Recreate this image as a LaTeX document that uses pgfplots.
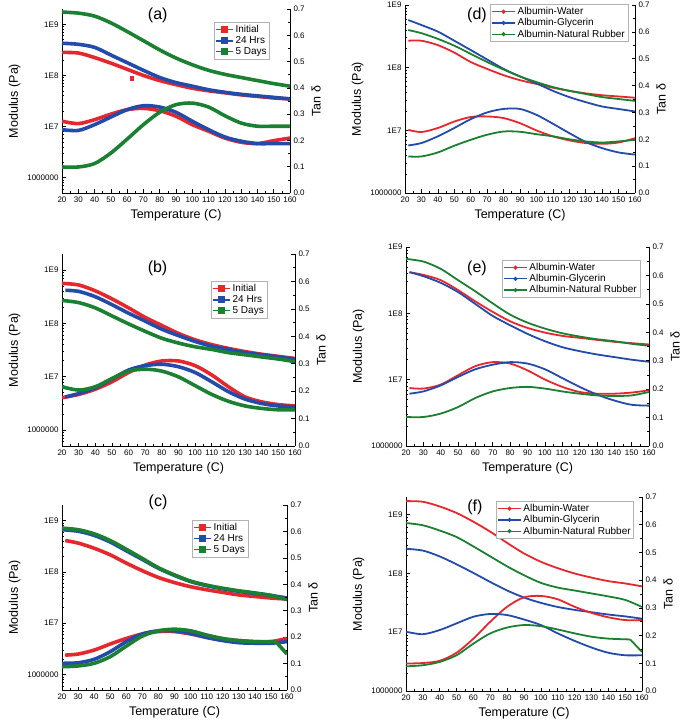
\documentclass[border=0pt]{standalone}
\usepackage{pgfplots}
\pgfplotsset{compat=1.18}
\usepackage{fontspec}
\setmainfont{Liberation Sans}
\definecolor{cr}{RGB}{228,40,45}
\definecolor{cb}{RGB}{35,75,170}
\definecolor{cg}{RGB}{28,128,50}
\tikzset{thkline/.style={smooth, line width=3.6pt}, thnline/.style={smooth, line width=1.8pt}}
\pgfplotsset{every axis/.append style={scale only axis, xmin=20, xmax=160,
    xtick={20,30,40,50,60,70,80,90,100,110,120,130,140,150,160},
    xticklabels={20,30,40,50,60,70,80,90,100,110,120,130,140,150,160},
    minor x tick num=1, tick align=inside, major tick length=3.5pt, minor tick length=2pt,
    tick style={black, line width=0.6pt}, axis line style={line width=0.8pt},
    tick label style={font=\fontsize{8}{9}\selectfont},
    label style={font=\fontsize{12.5}{14}\selectfont}}}
\begin{document}
\begin{tikzpicture}
\useasboundingbox (0pt,0pt) rectangle (685pt,724pt);
% ---------------- (a)
\begin{axis}[at={(62pt,531pt)}, anchor=south west, width=228pt, height=184pt, ymin=5e5, ymax=2e9,
  ymode=log, ytick={1e6,1e7,1e8,1e9}, yticklabels={1000000,1E7,1E8,1E9},
  minor ytick={6e5,7e5,8e5,9e5,2e6,3e6,4e6,5e6,6e6,7e6,8e6,9e6,2e7,3e7,4e7,5e7,6e7,7e7,8e7,9e7,2e8,3e8,4e8,5e8,6e8,7e8,8e8,9e8},
  axis x line*=bottom, axis y line*=left, xlabel={Temperature (C)}, ylabel={Modulus (Pa)}, clip=false,
  legend cell align=left, legend style={draw=gray!60, line width=0.5pt, font=\fontsize{10}{11}\selectfont, inner sep=1pt, row sep=-1.5pt, at={(0.912,0.929)}, anchor=north east},
  legend image code/.code={\draw[#1,line width=1.5pt] (0cm,0cm) -- (0.6cm,0cm); \fill[#1] (0.3cm,0cm) ++(-1.7pt,-1.7pt) rectangle ++(3.4pt,3.4pt);}]
\addplot[thkline, cr] coordinates {(20,2.82e8) (30,2.75e8) (40,2.24e8) (50,1.74e8) (60,1.32e8) (70,1.00e8) (80,7.94e7) (90,6.61e7) (100,5.62e7) (110,5.01e7) (120,4.57e7) (130,4.17e7) (140,3.89e7) (150,3.63e7) (160,3.47e7)};
\addlegendentry{Initial}
\addplot[thkline, cb] coordinates {(20,4.27e8) (30,4.07e8) (40,3.55e8) (50,2.51e8) (60,1.78e8) (70,1.26e8) (80,9.12e7) (90,7.24e7) (100,6.17e7) (110,5.25e7) (120,4.68e7) (130,4.27e7) (140,3.98e7) (150,3.72e7) (160,3.47e7)};
\addlegendentry{24 Hrs}
\addplot[thkline, cg] coordinates {(20,1.74e9) (30,1.66e9) (40,1.45e9) (50,1.07e9) (60,7.24e8) (70,4.79e8) (80,3.16e8) (90,2.19e8) (100,1.62e8) (110,1.26e8) (120,1.05e8) (130,9.12e7) (140,7.94e7) (150,6.92e7) (160,6.17e7)};
\addlegendentry{5 Days}
\addplot[only marks, mark=square*, mark size=1.6pt, cr, forget plot] coordinates {(63,8.8e7)};
\node[font=\fontsize{16}{17}\selectfont] at (rel axis cs:0.42,0.965) {(a)};
\end{axis}
\begin{axis}[at={(62pt,531pt)}, anchor=south west, width=228pt, height=184pt,
  axis y line*=right, axis x line=none, ymin=0, ymax=0.7, ytick={0,0.1,0.2,0.3,0.4,0.5,0.6,0.7},
  yticklabels={0.0,0.1,0.2,0.3,0.4,0.5,0.6,0.7}, minor y tick num=1, ylabel={Tan δ}]
\addplot[thkline, cr] coordinates {(20,0.273) (30,0.264) (40,0.279) (50,0.300) (60,0.317) (70,0.322) (80,0.313) (90,0.292) (100,0.260) (110,0.235) (120,0.209) (130,0.193) (140,0.188) (150,0.199) (160,0.209)};
\addplot[thkline, cb] coordinates {(20,0.241) (30,0.238) (40,0.260) (50,0.289) (60,0.317) (70,0.332) (80,0.327) (90,0.307) (100,0.273) (110,0.241) (120,0.213) (130,0.197) (140,0.188) (150,0.188) (160,0.188)};
\addplot[thkline, cg] coordinates {(20,0.099) (30,0.099) (40,0.112) (50,0.152) (60,0.205) (70,0.260) (80,0.307) (90,0.336) (100,0.342) (110,0.327) (120,0.294) (130,0.266) (140,0.254) (150,0.254) (160,0.254)};
\end{axis}
% ---------------- (b)
\begin{axis}[at={(62pt,278pt)}, anchor=south west, width=233pt, height=192pt, ymin=5e5, ymax=2e9,
  ymode=log, ytick={1e6,1e7,1e8,1e9}, yticklabels={1000000,1E7,1E8,1E9},
  minor ytick={6e5,7e5,8e5,9e5,2e6,3e6,4e6,5e6,6e6,7e6,8e6,9e6,2e7,3e7,4e7,5e7,6e7,7e7,8e7,9e7,2e8,3e8,4e8,5e8,6e8,7e8,8e8,9e8},
  axis x line*=bottom, axis y line*=left, xlabel={Temperature (C)}, ylabel={Modulus (Pa)}, clip=false,
  legend cell align=left, legend style={draw=gray!60, line width=0.5pt, font=\fontsize{10}{11}\selectfont, inner sep=1pt, row sep=-1.5pt, at={(0.88,0.859)}, anchor=north east},
  legend image code/.code={\draw[#1,line width=1.5pt] (0cm,0cm) -- (0.6cm,0cm); \fill[#1] (0.3cm,0cm) ++(-1.7pt,-1.7pt) rectangle ++(3.4pt,3.4pt);}]
\addplot[thkline, cr] coordinates {(20,5.62e8) (30,5.25e8) (40,4.07e8) (50,2.88e8) (60,1.95e8) (70,1.29e8) (80,9.12e7) (90,6.46e7) (100,4.90e7) (110,3.98e7) (120,3.39e7) (130,2.95e7) (140,2.63e7) (150,2.40e7) (160,2.19e7)};
\addlegendentry{Initial}
\addplot[thkline, cb] coordinates {(22,4.17e8) (30,3.98e8) (40,3.16e8) (50,2.24e8) (60,1.55e8) (70,1.10e8) (80,7.76e7) (90,5.89e7) (100,4.57e7) (110,3.72e7) (120,3.24e7) (130,2.82e7) (140,2.57e7) (150,2.34e7) (160,2.14e7)};
\addlegendentry{24 Hrs}
\addplot[thkline, cg] coordinates {(20,2.69e8) (30,2.45e8) (40,1.95e8) (50,1.38e8) (60,9.77e7) (70,7.08e7) (80,5.25e7) (90,4.27e7) (100,3.63e7) (110,3.24e7) (120,2.82e7) (130,2.57e7) (140,2.34e7) (150,2.14e7) (160,1.91e7)};
\addlegendentry{5 Days}
\node[font=\fontsize{16}{17}\selectfont] at (rel axis cs:0.41,0.927) {(b)};
\end{axis}
\begin{axis}[at={(62pt,278pt)}, anchor=south west, width=233pt, height=192pt,
  axis y line*=right, axis x line=none, ymin=0, ymax=0.7, ytick={0,0.1,0.2,0.3,0.4,0.5,0.6,0.7},
  yticklabels={0.0,0.1,0.2,0.3,0.4,0.5,0.6,0.7}, minor y tick num=1, ylabel={Tan δ}]
\addplot[thkline, cr] coordinates {(20,0.176) (30,0.188) (40,0.207) (50,0.234) (60,0.268) (70,0.295) (80,0.310) (90,0.310) (100,0.293) (110,0.259) (120,0.216) (130,0.179) (140,0.161) (150,0.151) (160,0.146)};
\addplot[thkline, cb] coordinates {(22,0.179) (30,0.191) (40,0.212) (50,0.244) (60,0.277) (70,0.293) (80,0.298) (90,0.289) (100,0.268) (110,0.234) (120,0.198) (130,0.171) (140,0.155) (150,0.146) (160,0.143)};
\addplot[thkline, cg] coordinates {(20,0.216) (30,0.204) (40,0.216) (50,0.246) (60,0.273) (70,0.280) (80,0.273) (90,0.252) (100,0.220) (110,0.188) (120,0.163) (130,0.146) (140,0.137) (150,0.132) (160,0.132)};
\end{axis}
% ---------------- (c)
\begin{axis}[at={(62pt,34pt)}, anchor=south west, width=225pt, height=185pt, ymin=5e5, ymax=2e9,
  ymode=log, ytick={1e6,1e7,1e8,1e9}, yticklabels={1000000,1E7,1E8,1E9},
  minor ytick={6e5,7e5,8e5,9e5,2e6,3e6,4e6,5e6,6e6,7e6,8e6,9e6,2e7,3e7,4e7,5e7,6e7,7e7,8e7,9e7,2e8,3e8,4e8,5e8,6e8,7e8,8e8,9e8},
  axis x line*=bottom, axis y line*=left, xlabel={Temperature (C)}, ylabel={Modulus (Pa)}, clip=false,
  legend cell align=left, legend style={draw=gray!60, line width=0.5pt, font=\fontsize{10}{11}\selectfont, inner sep=1pt, row sep=-1.5pt, at={(0.827,0.919)}, anchor=north east},
  legend image code/.code={\draw[#1,line width=1.5pt] (0cm,0cm) -- (0.6cm,0cm); \fill[#1] (0.3cm,0cm) ++(-1.7pt,-1.7pt) rectangle ++(3.4pt,3.4pt);}]
\addplot[thkline, cr] coordinates {(22,4.07e8) (30,3.63e8) (40,2.88e8) (50,2.14e8) (60,1.48e8) (70,1.05e8) (80,7.76e7) (90,6.17e7) (100,5.13e7) (110,4.47e7) (120,3.98e7) (130,3.55e7) (140,3.31e7) (150,3.09e7) (160,2.95e7)};
\addlegendentry{Initial}
\addplot[thkline, cb] coordinates {(20,6.61e8) (30,6.17e8) (40,5.13e8) (50,3.80e8) (60,2.57e8) (70,1.74e8) (80,1.17e8) (90,8.51e7) (100,6.46e7) (110,5.37e7) (120,4.68e7) (130,4.17e7) (140,3.80e7) (150,3.47e7) (160,3.09e7)};
\addlegendentry{24 Hrs}
\addplot[thkline, cg] coordinates {(20,7.08e8) (30,6.61e8) (40,5.50e8) (50,4.07e8) (60,2.75e8) (70,1.82e8) (80,1.20e8) (90,8.71e7) (100,6.61e7) (110,5.50e7) (120,4.79e7) (130,4.27e7) (140,3.89e7) (150,3.47e7) (160,2.88e7)};
\addlegendentry{5 Days}
\node[font=\fontsize{16}{17}\selectfont] at (rel axis cs:0.427,1.016) {(c)};
\end{axis}
\begin{axis}[at={(62pt,34pt)}, anchor=south west, width=225pt, height=185pt,
  axis y line*=right, axis x line=none, ymin=0, ymax=0.7, ytick={0,0.1,0.2,0.3,0.4,0.5,0.6,0.7},
  yticklabels={0.0,0.1,0.2,0.3,0.4,0.5,0.6,0.7}, minor y tick num=1, ylabel={Tan δ}]
\addplot[thkline, cr] coordinates {(22,0.132) (30,0.136) (40,0.151) (50,0.174) (60,0.195) (70,0.212) (80,0.221) (90,0.221) (100,0.212) (110,0.199) (120,0.189) (130,0.187) (140,0.183) (150,0.183) (160,0.195)};
\addplot[thkline, cb] coordinates {(20,0.101) (30,0.103) (40,0.116) (50,0.145) (60,0.183) (70,0.212) (80,0.224) (90,0.224) (100,0.214) (110,0.199) (120,0.187) (130,0.179) (140,0.177) (150,0.177) (160,0.183)};
\addplot[thkline, cg] coordinates {(20,0.088) (30,0.091) (40,0.101) (50,0.126) (60,0.166) (70,0.204) (80,0.224) (90,0.230) (100,0.224) (110,0.208) (120,0.195) (130,0.187) (140,0.183) (153,0.183)};
\addplot[line width=3.6pt, cg] coordinates {(153,0.183) (160,0.136)};
\end{axis}
% ---------------- (d)
\begin{axis}[at={(405pt,531pt)}, anchor=south west, width=230pt, height=188pt, ymin=1e6, ymax=1e9,
  ymode=log, ytick={1e6,1e7,1e8,1e9}, yticklabels={1000000,1E7,1E8,1E9},
  minor ytick={2e6,3e6,4e6,5e6,6e6,7e6,8e6,9e6,2e7,3e7,4e7,5e7,6e7,7e7,8e7,9e7,2e8,3e8,4e8,5e8,6e8,7e8,8e8,9e8},
  axis x line*=bottom, axis y line*=left, xlabel={Temperature (C)}, ylabel={Modulus (Pa)}, clip=false,
  legend cell align=left, legend style={draw=gray!60, line width=0.5pt, font=\fontsize{10}{11}\selectfont, inner sep=1pt, row sep=-1.5pt, at={(0.97,1.005)}, anchor=north east},
  legend image code/.code={\draw[#1,line width=1.2pt] (0cm,0cm) -- (0.8cm,0cm); \fill[#1] (0.4cm,0cm) circle (1pt);}]
\addplot[thnline, cr] coordinates {(22,2.69e8) (30,2.69e8) (40,2.29e8) (50,1.74e8) (60,1.23e8) (70,9.55e7) (80,7.59e7) (90,6.31e7) (100,5.50e7) (110,4.79e7) (120,4.27e7) (130,3.89e7) (140,3.63e7) (150,3.47e7) (160,3.31e7)};
\addlegendentry{Albumin-Water}
\addplot[thnline, cb] coordinates {(22,5.75e8) (30,4.79e8) (40,3.76e8) (50,2.69e8) (60,1.91e8) (70,1.35e8) (80,9.55e7) (90,7.24e7) (100,5.62e7) (110,4.27e7) (120,3.39e7) (130,2.82e7) (140,2.40e7) (150,2.19e7) (160,2.00e7)};
\addlegendentry{Albumin-Glycerin}
\addplot[thnline, cg] coordinates {(22,3.98e8) (30,3.55e8) (40,2.88e8) (50,2.24e8) (60,1.66e8) (70,1.23e8) (80,9.33e7) (90,7.24e7) (100,5.89e7) (110,4.90e7) (120,4.27e7) (130,3.80e7) (140,3.39e7) (150,3.16e7) (160,2.95e7)};
\addlegendentry{Albumin-Natural Rubber}
\node[font=\fontsize{16}{17}\selectfont] at (rel axis cs:0.313,0.947) {(d)};
\end{axis}
\begin{axis}[at={(405pt,531pt)}, anchor=south west, width=230pt, height=188pt,
  axis y line*=right, axis x line=none, ymin=0, ymax=0.7, ytick={0,0.1,0.2,0.3,0.4,0.5,0.6,0.7},
  yticklabels={0.0,0.1,0.2,0.3,0.4,0.5,0.6,0.7}, minor y tick num=1, ylabel={Tan δ}]
\addplot[thnline, cr] coordinates {(22,0.235) (30,0.227) (40,0.242) (50,0.266) (60,0.283) (70,0.285) (80,0.279) (90,0.260) (100,0.233) (110,0.211) (120,0.196) (130,0.186) (140,0.183) (150,0.188) (160,0.204)};
\addplot[thnline, cb] coordinates {(22,0.177) (30,0.186) (40,0.211) (50,0.242) (60,0.275) (70,0.300) (80,0.313) (90,0.313) (100,0.291) (110,0.258) (120,0.223) (130,0.190) (140,0.167) (150,0.151) (160,0.143)};
\addplot[thnline, cg] coordinates {(22,0.136) (30,0.136) (40,0.151) (50,0.176) (60,0.198) (70,0.217) (80,0.229) (90,0.228) (100,0.219) (110,0.211) (120,0.200) (130,0.192) (140,0.188) (150,0.192) (160,0.198)};
\end{axis}
% ---------------- (e)
\begin{axis}[at={(406pt,278pt)}, anchor=south west, width=243pt, height=199pt, ymin=1e6, ymax=1e9,
  ymode=log, ytick={1e6,1e7,1e8,1e9}, yticklabels={1000000,1E7,1E8,1E9},
  minor ytick={2e6,3e6,4e6,5e6,6e6,7e6,8e6,9e6,2e7,3e7,4e7,5e7,6e7,7e7,8e7,9e7,2e8,3e8,4e8,5e8,6e8,7e8,8e8,9e8},
  axis x line*=bottom, axis y line*=left, xlabel={Temperature (C)}, ylabel={Modulus (Pa)}, clip=false,
  legend cell align=left, legend style={draw=gray!60, line width=0.5pt, font=\fontsize{10}{11}\selectfont, inner sep=1pt, row sep=-1.5pt, at={(0.963,0.935)}, anchor=north east},
  legend image code/.code={\draw[#1,line width=1.2pt] (0cm,0cm) -- (0.8cm,0cm); \fill[#1] (0.4cm,0cm) circle (1pt);}]
\addplot[thnline, cr] coordinates {(22,4.17e8) (30,3.80e8) (40,3.16e8) (50,2.24e8) (60,1.51e8) (70,1.05e8) (80,7.59e7) (90,6.03e7) (100,5.13e7) (110,4.57e7) (120,4.27e7) (130,3.98e7) (140,3.72e7) (150,3.55e7) (160,3.39e7)};
\addlegendentry{Albumin-Water}
\addplot[thnline, cb] coordinates {(22,4.17e8) (30,3.63e8) (40,2.88e8) (50,2.09e8) (60,1.38e8) (70,9.12e7) (80,6.61e7) (90,4.90e7) (100,3.80e7) (110,3.09e7) (120,2.69e7) (130,2.40e7) (140,2.19e7) (150,2.00e7) (160,1.86e7)};
\addlegendentry{Albumin-Glycerin}
\addplot[thnline, cg] coordinates {(20,6.61e8) (30,6.03e8) (40,4.68e8) (50,3.16e8) (60,2.14e8) (70,1.41e8) (80,9.55e7) (90,7.24e7) (100,5.89e7) (110,5.01e7) (120,4.47e7) (130,4.07e7) (140,3.80e7) (150,3.47e7) (160,3.24e7)};
\addlegendentry{Albumin-Natural Rubber}
\node[font=\fontsize{16}{17}\selectfont] at (rel axis cs:0.292,0.894) {(e)};
\end{axis}
\begin{axis}[at={(406pt,278pt)}, anchor=south west, width=243pt, height=199pt,
  axis y line*=right, axis x line=none, ymin=0, ymax=0.7, ytick={0,0.1,0.2,0.3,0.4,0.5,0.6,0.7},
  yticklabels={0.0,0.1,0.2,0.3,0.4,0.5,0.6,0.7}, minor y tick num=1, ylabel={Tan δ}]
\addplot[thnline, cr] coordinates {(22,0.204) (30,0.202) (40,0.216) (50,0.249) (60,0.281) (70,0.295) (80,0.290) (90,0.266) (100,0.234) (110,0.208) (120,0.190) (130,0.184) (140,0.184) (150,0.188) (160,0.196)};
\addplot[thnline, cb] coordinates {(22,0.184) (30,0.192) (40,0.213) (50,0.243) (60,0.270) (70,0.286) (80,0.295) (90,0.290) (100,0.270) (110,0.239) (120,0.208) (130,0.181) (140,0.160) (150,0.145) (160,0.142)};
\addplot[thnline, cg] coordinates {(20,0.102) (30,0.102) (40,0.114) (50,0.137) (60,0.169) (70,0.192) (80,0.204) (90,0.208) (100,0.202) (110,0.192) (120,0.184) (130,0.178) (140,0.176) (150,0.178) (160,0.190)};
\end{axis}
% ---------------- (f)
\begin{axis}[at={(406pt,33pt)}, anchor=south west, width=236pt, height=194pt, ymin=1e6, ymax=2e9,
  ymode=log, ytick={1e6,1e7,1e8,1e9}, yticklabels={1000000,1E7,1E8,1E9},
  minor ytick={2e6,3e6,4e6,5e6,6e6,7e6,8e6,9e6,2e7,3e7,4e7,5e7,6e7,7e7,8e7,9e7,2e8,3e8,4e8,5e8,6e8,7e8,8e8,9e8},
  axis x line*=bottom, axis y line*=left, xlabel={Temperature (C)}, ylabel={Modulus (Pa)}, clip=false,
  legend cell align=left, legend style={draw=gray!60, line width=0.5pt, font=\fontsize{10}{11}\selectfont, inner sep=1pt, row sep=-1.5pt, at={(0.966,0.979)}, anchor=north east},
  legend image code/.code={\draw[#1,line width=1.2pt] (0cm,0cm) -- (0.8cm,0cm); \fill[#1] (0.4cm,0cm) circle (1pt);}]
\addplot[thnline, cr] coordinates {(20,1.70e9) (30,1.66e9) (40,1.38e9) (50,1.07e9) (60,7.59e8) (70,5.13e8) (80,3.31e8) (90,2.19e8) (100,1.58e8) (110,1.23e8) (120,1.00e8) (130,8.51e7) (140,7.41e7) (150,6.76e7) (160,6.03e7)};
\addlegendentry{Albumin-Water}
\addplot[thnline, cb] coordinates {(20,2.63e8) (30,2.45e8) (40,1.95e8) (50,1.43e8) (60,1.02e8) (70,7.16e7) (80,5.13e7) (90,3.89e7) (100,3.16e7) (110,2.69e7) (120,2.40e7) (130,2.19e7) (140,2.00e7) (150,1.86e7) (160,1.70e7)};
\addlegendentry{Albumin-Glycerin}
\addplot[thnline, cg] coordinates {(20,7.21e8) (30,6.61e8) (40,5.37e8) (50,4.17e8) (60,2.88e8) (70,1.95e8) (80,1.32e8) (90,9.33e7) (100,6.92e7) (110,5.75e7) (120,5.13e7) (130,4.57e7) (140,4.07e7) (150,3.55e7) (160,2.69e7)};
\addlegendentry{Albumin-Natural Rubber}
\node[font=\fontsize{16}{17}\selectfont] at (rel axis cs:0.292,0.948) {(f)};
\end{axis}
\begin{axis}[at={(406pt,33pt)}, anchor=south west, width=236pt, height=194pt,
  axis y line*=right, axis x line=none, ymin=0, ymax=0.7, ytick={0,0.1,0.2,0.3,0.4,0.5,0.6,0.7},
  yticklabels={0.0,0.1,0.2,0.3,0.4,0.5,0.6,0.7}, minor y tick num=1, ylabel={Tan δ}]
\addplot[thnline, cr] coordinates {(20,0.099) (30,0.101) (40,0.109) (50,0.138) (60,0.189) (70,0.250) (80,0.304) (90,0.338) (100,0.343) (110,0.331) (120,0.304) (130,0.282) (140,0.266) (150,0.256) (160,0.256)};
\addplot[thnline, cb] coordinates {(20,0.214) (30,0.205) (40,0.220) (50,0.244) (60,0.268) (70,0.278) (80,0.274) (90,0.258) (100,0.238) (110,0.208) (120,0.181) (130,0.157) (140,0.138) (150,0.129) (160,0.129)};
\addplot[thnline, cg] coordinates {(20,0.089) (30,0.093) (40,0.105) (50,0.129) (60,0.171) (70,0.208) (80,0.229) (90,0.238) (100,0.234) (110,0.222) (120,0.208) (130,0.196) (140,0.189) (153,0.186)};
\addplot[line width=1.8pt, cg] coordinates {(153,0.186) (160,0.141)};
\end{axis}
\end{tikzpicture}
\end{document}
